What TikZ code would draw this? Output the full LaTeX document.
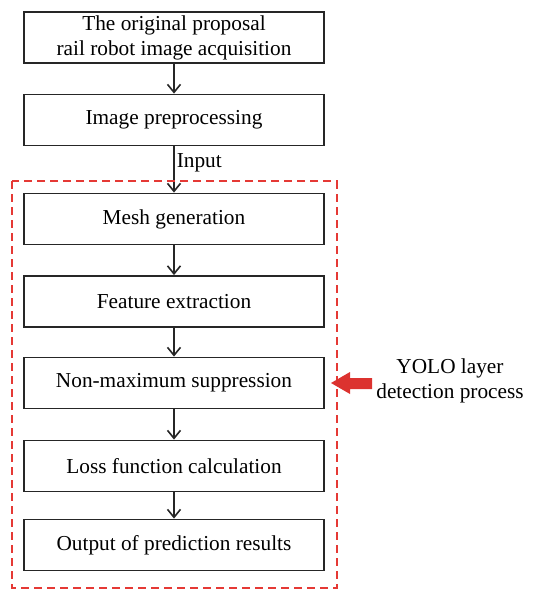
\documentclass[tikz,border=0pt]{standalone}
\usepackage{fontspec}
\setmainfont{Liberation Serif}
\usetikzlibrary{arrows.meta}
\begin{document}
\begin{tikzpicture}[x=1pt,y=-1pt,
  stepbox/.style={draw=black!85,line width=1.8pt,minimum width=300pt,minimum height=51pt,inner sep=0pt,align=center,font=\fontsize{21.3}{25}\selectfont},
  flow/.style={draw=black!85,line width=1.6pt,-{Straight Barb[length=8pt,width=13pt,line width=1.6pt]}},
  lbl/.style={font=\fontsize{21.3}{25}\selectfont,align=center}]
\useasboundingbox (0,0) rectangle (535,591);
\node[stepbox] (b1) at (174,37.5) {The original proposal\\rail robot image acquisition};
\node[stepbox] (b2) at (174,120) {Image preprocessing};
\node[stepbox] (b3) at (174,219) {Mesh generation};
\node[stepbox] (b4) at (174,301.5) {Feature extraction};
\node[stepbox] (b5) at (174,383) {Non-maximum suppression};
\node[stepbox] (b6) at (174,466) {Loss function calculation};
\node[stepbox] (b7) at (174,545) {Output of prediction results};
\draw[flow] (b1) -- (b2);
\draw[flow] (b2) -- node[lbl,right,inner sep=2pt,pos=0.36] (inp) {Input} (b3);
\draw[flow] (b3) -- (b4);
\draw[flow] (b4) -- (b5);
\draw[flow] (b5) -- (b6);
\draw[flow] (b6) -- (b7);
\coordinate (dtl) at (12,181);
\coordinate (dbr) at (336.5,588);
\draw[color={rgb,255:red,229;green,57;blue,53},line width=2pt,dash pattern=on 8pt off 5pt] (dtl) rectangle (dbr);
\node[lbl] (yolo) at (450,381) {YOLO layer\\detection process};
\fill[color={rgb,255:red,220;green,50;blue,47}] (372,378) -- (350,378) -- (350,372) -- (331,383) -- (350,394) -- (350,389) -- (372,389) -- cycle;
\end{tikzpicture}
\end{document}
